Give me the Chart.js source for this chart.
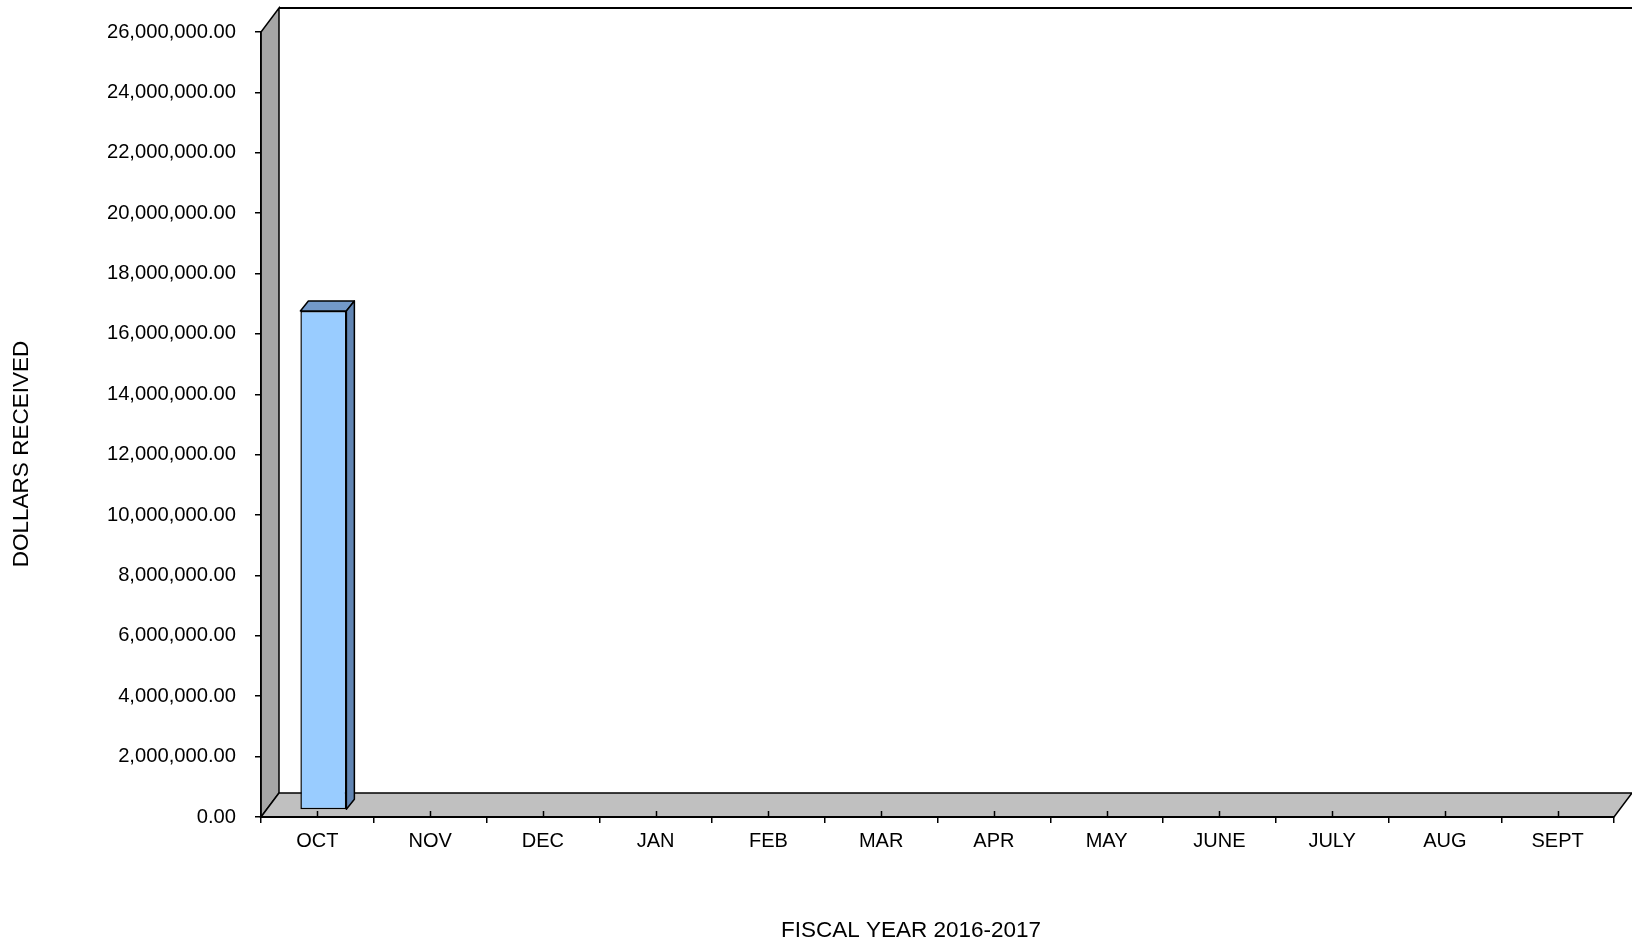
<!DOCTYPE html>
<html>
<head>
<meta charset="utf-8">
<script src="https://cdn.jsdelivr.net/npm/chart.js@4/dist/chart.umd.min.js"></script>
<style>
    html, body { margin: 0; padding: 0; background: #fff; }
    #wrap { width: 1632px; height: 943px; }
</style>
</head>
<body>
<div id="wrap"><canvas id="chart" width="1632" height="943"></canvas></div>
<script>
const MONTHS = ['OCT', 'NOV', 'DEC', 'JAN', 'FEB', 'MAR', 'APR', 'MAY', 'JUNE', 'JULY', 'AUG', 'SEPT'];
const RECEIVED = [16530000, null, null, null, null, null, null, null, null, null, null, null];
const Y_MAX  = 26000000;
const Y_STEP = 2000000;

const X_TITLE = 'FISCAL YEAR 2016-2017';
const Y_TITLE = 'DOLLARS RECEIVED';

const FONT = "'Liberation Sans', Arial, sans-serif";

// depth of the 3D box and of the bar
const WALL_DX = 18, WALL_DY = 24;
const BAR_DX = 8, BAR_DY = 10;
const BAR_SHIFT_X = 6, BAR_SHIFT_Y = -7;

function money(v) {
    return Number(v).toLocaleString('en-US', { minimumFractionDigits: 2, maximumFractionDigits: 2 });
}

function poly(ctx, pts, fill) {
    ctx.beginPath();
    ctx.moveTo(pts[0][0], pts[0][1]);
    pts.slice(1).forEach(p => ctx.lineTo(p[0], p[1]));
    ctx.closePath();
    ctx.fillStyle = fill;
    ctx.fill();
    ctx.stroke();
}

const box3d = {
    id: 'box3d',
    beforeDraw(chart) {
        const { ctx, chartArea: a, width } = chart;
        ctx.save();
        ctx.strokeStyle = '#000';
        ctx.lineWidth = 2;
        ctx.lineJoin = 'miter';
        // back wall top edge
        ctx.beginPath();
        ctx.moveTo(a.left + WALL_DX, a.top - WALL_DY);
        ctx.lineTo(width + 5, a.top - WALL_DY);
        ctx.stroke();
        ctx.lineWidth = 1.5;
        // left wall
        poly(ctx, [
            [a.left, a.bottom], [a.left, a.top],
            [a.left + WALL_DX, a.top - WALL_DY], [a.left + WALL_DX, a.bottom - WALL_DY]
        ], '#a6a6a6');
        // floor
        poly(ctx, [
            [a.left, a.bottom], [a.left + WALL_DX, a.bottom - WALL_DY],
            [a.right + WALL_DX, a.bottom - WALL_DY], [a.right, a.bottom]
        ], '#c0c0c0');
        ctx.restore();
    },
    afterDraw(chart) {
        const { ctx, chartArea: a } = chart;
        const xs = chart.scales.x;
        ctx.save();
        ctx.strokeStyle = '#000';
        ctx.lineWidth = 1.5;
        // small ticks at category centres
        MONTHS.forEach((m, i) => {
            const x = Math.round(xs.getPixelForValue(i)) + 0.5;
            ctx.beginPath();
            ctx.moveTo(x, a.bottom);
            ctx.lineTo(x, a.bottom - 6);
            ctx.stroke();
        });
        // axis titles
        ctx.fillStyle = '#000';
        ctx.font = '22.5px ' + FONT;
        ctx.textAlign = 'center';
        ctx.textBaseline = 'middle';
        ctx.fillText(X_TITLE, 911, 931);
        ctx.translate(22, 454);
        ctx.rotate(-Math.PI / 2);
        ctx.fillText(Y_TITLE, 0, 0);
        ctx.restore();
    },
    beforeDatasetsDraw(chart) {
        chart.ctx.save();
        chart.ctx.translate(BAR_SHIFT_X, BAR_SHIFT_Y);
    },
    afterDatasetsDraw(chart) {
        const ctx = chart.ctx;
        ctx.strokeStyle = '#000';
        ctx.lineWidth = 1.5;
        ctx.lineJoin = 'round';
        chart.getDatasetMeta(0).data.forEach((bar, i) => {
            if (RECEIVED[i] == null) return;
            const l = bar.x - bar.width / 2, r = bar.x + bar.width / 2;
            const t = bar.y, b = bar.base;
            // top face
            poly(ctx, [[l, t], [l + BAR_DX, t - BAR_DY], [r + BAR_DX, t - BAR_DY], [r, t]], '#7399c9');
            // side face
            poly(ctx, [[r, t], [r + BAR_DX, t - BAR_DY], [r + BAR_DX, b - BAR_DY], [r, b]], '#6185b3');
        });
        ctx.restore();
    }
};

new Chart(document.getElementById('chart'), {
    type: 'bar',
    data: {
        labels: MONTHS,
        datasets: [{
            data: RECEIVED,
            backgroundColor: '#99ccff',
            borderColor: '#000',
            borderWidth: 1.5,
            borderSkipped: false,
            barPercentage: 0.408,
            categoryPercentage: 1
        }]
    },
    options: {
        responsive: false,
        animation: false,
        devicePixelRatio: 1,
        layout: { padding: { top: 32, right: 18, left: 0, bottom: 0 } },
        plugins: {
            legend: { display: false },
            tooltip: { enabled: false }
        },
        scales: {
            x: {
                offset: true,
                grid: {
                    offset: true,
                    drawOnChartArea: false,
                    drawTicks: true,
                    tickLength: 6,
                    color: '#000',
                    lineWidth: 1.5
                },
                border: { display: true, color: '#000', width: 2 },
                ticks: {
                    color: '#000',
                    font: { family: FONT, size: 20 },
                    padding: 6,
                    maxRotation: 0,
                    autoSkip: false
                },
                afterFit(scale) { scale.height = 126; }
            },
            y: {
                min: 0,
                max: Y_MAX,
                grid: {
                    drawOnChartArea: false,
                    drawTicks: true,
                    tickLength: 6,
                    color: '#000',
                    lineWidth: 1.5
                },
                border: { display: true, color: '#000', width: 1.5 },
                ticks: {
                    stepSize: Y_STEP,
                    color: '#000',
                    font: { family: FONT, size: 20.2 },
                    padding: 19,
                    callback: v => money(v)
                },
                afterFit(scale) { scale.width = 261; }
            }
        }
    },
    plugins: [box3d]
});
</script>
</body>
</html>
